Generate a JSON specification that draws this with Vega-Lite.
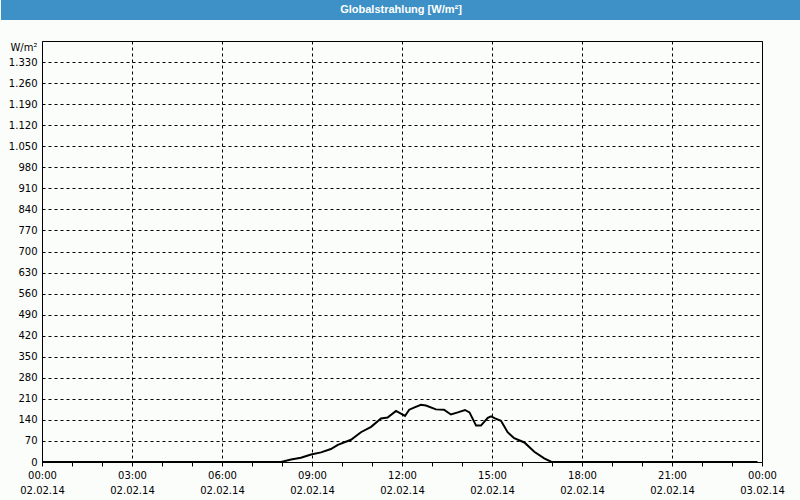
{
  "$schema": "https://vega.github.io/schema/vega-lite/v6.json",
  "background": "#fbfdfb",
  "padding": {"left": 0, "top": 0, "right": 0, "bottom": 6},
  "spacing": 20,
  "config": {
    "font": "DejaVu Sans",
    "axis": {"labelFont": "DejaVu Sans", "labelFontSize": 10, "labelColor": "#000000", "titleFont": "DejaVu Sans", "titleFontSize": 10, "titleColor": "#000000", "titleFontWeight": "normal"}
  },
  "vconcat": [
    {
      "width": 759,
      "height": 20,
      "view": {"fill": null, "stroke": null},
      "data": {"values": [{"t": "Globalstrahlung [W/m²]"}]},
      "encoding": {
        "x": {"datum": 359, "type": "quantitative", "scale": {"domain": [0, 759], "nice": false, "zero": false}, "axis": null},
        "y": {"datum": 0, "type": "quantitative", "scale": {"domain": [-1, 1], "nice": false, "zero": false}, "axis": null}
      },
      "layer": [
        {
          "mark": {"type": "rect", "color": "#3d91c7"},
          "encoding": {
            "x": {"datum": -41, "type": "quantitative"},
            "x2": {"datum": 759},
            "y": {"datum": -1, "type": "quantitative"},
            "y2": {"datum": 1}
          }
        },
        {
          "mark": {"type": "text", "color": "#ffffff", "font": "Liberation Sans", "fontSize": 11, "fontWeight": "bold", "baseline": "middle", "align": "center"},
          "encoding": {"text": {"field": "t", "type": "nominal"}}
        }
      ]
    },
    {
      "width": 720,
      "height": 421,
      "view": {"fill": null, "stroke": "#000000", "strokeWidth": 1},
      "data": {
        "values": [
          {"h": 0, "v": 0}, {"h": 1, "v": 0}, {"h": 2, "v": 0}, {"h": 3, "v": 0},
          {"h": 4, "v": 0}, {"h": 5, "v": 0}, {"h": 6, "v": 0}, {"h": 7, "v": 0},
          {"h": 7.97, "v": 0}, {"h": 8.3, "v": 8}, {"h": 8.63, "v": 14},
          {"h": 8.97, "v": 25}, {"h": 9.3, "v": 32}, {"h": 9.63, "v": 43},
          {"h": 9.86, "v": 57}, {"h": 10.3, "v": 74}, {"h": 10.63, "v": 99},
          {"h": 10.97, "v": 117}, {"h": 11.3, "v": 145}, {"h": 11.52, "v": 148},
          {"h": 11.8, "v": 170}, {"h": 12.1, "v": 153}, {"h": 12.24, "v": 174},
          {"h": 12.4, "v": 181}, {"h": 12.63, "v": 190}, {"h": 12.8, "v": 188},
          {"h": 13.13, "v": 175}, {"h": 13.4, "v": 174}, {"h": 13.63, "v": 158},
          {"h": 13.86, "v": 165}, {"h": 14.1, "v": 173}, {"h": 14.25, "v": 165},
          {"h": 14.47, "v": 121}, {"h": 14.63, "v": 121}, {"h": 14.86, "v": 147},
          {"h": 14.97, "v": 152}, {"h": 15.1, "v": 145}, {"h": 15.3, "v": 137},
          {"h": 15.52, "v": 99}, {"h": 15.74, "v": 79}, {"h": 16.08, "v": 65},
          {"h": 16.41, "v": 34}, {"h": 16.74, "v": 12}, {"h": 16.97, "v": 1},
          {"h": 17.2, "v": 0}, {"h": 18, "v": 0}, {"h": 19, "v": 0}, {"h": 20, "v": 0},
          {"h": 21, "v": 0}, {"h": 22, "v": 0}, {"h": 23, "v": 0}, {"h": 23.85, "v": 0}
        ]
      },
      "mark": {"type": "line", "color": "#000000", "strokeWidth": 2, "interpolate": "linear"},
      "encoding": {
        "x": {
          "field": "h", "type": "quantitative",
          "scale": {"domain": [0, 24], "nice": false, "zero": false},
          "axis": {
            "title": null,
            "values": [0,1,2,3,4,5,6,7,8,9,10,11,12,13,14,15,16,17,18,19,20,21,22,23,24],
            "domain": false,
            "grid": true,
            "gridColor": "#000000",
            "gridDash": [3, 3],
            "gridOpacity": {"condition": {"test": "datum.value % 3 !== 0", "value": 0}, "value": 1},
            "ticks": true,
            "tickSize": 4,
            "tickColor": "#000000",
            "labelPadding": 4,
            "labelLineHeight": 15,
            "labelFlush": false,
            "labelOverlap": false,
            "labelExpr": "datum.value % 3 === 0 ? [(datum.value === 24 ? '00' : (datum.value < 10 ? '0' + datum.value : '' + datum.value)) + ':00', datum.value === 24 ? '03.02.14' : '02.02.14'] : ''"
          }
        },
        "y": {
          "field": "v", "type": "quantitative",
          "scale": {"domain": [0, 1400], "nice": false},
          "axis": {
            "title": "W/m²",
            "titleAngle": 0,
            "titleAlign": "right",
            "titleBaseline": "middle",
            "titleX": -5,
            "titleY": 6,
            "values": [0,70,140,210,280,350,420,490,560,630,700,770,840,910,980,1050,1120,1190,1260,1330],
            "domain": false,
            "ticks": false,
            "grid": true,
            "gridColor": "#000000",
            "gridDash": [3, 3],
            "labelPadding": 5,
            "labelOverlap": false,
            "minExtent": 41,
            "maxExtent": 41,
            "labelExpr": "replace(format(datum.value, ','), ',', '.')"
          }
        }
      }
    }
  ]
}
